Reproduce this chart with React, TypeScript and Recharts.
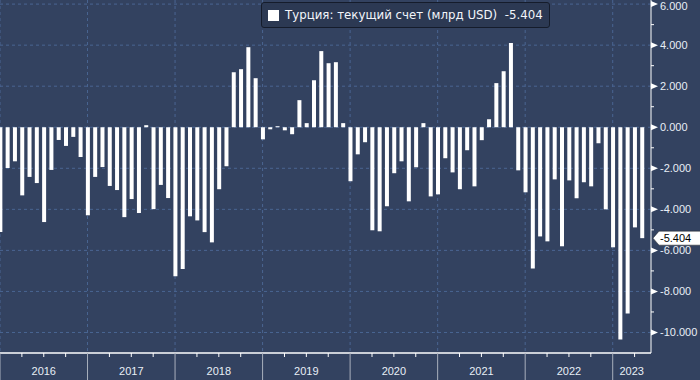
import React from "react";
import {
  Bar,
  BarChart,
  CartesianGrid,
  ReferenceDot,
  XAxis,
  YAxis,
} from "recharts";

// monthly current account, Dec 2015 .. Apr 2023 (bn USD)
const values = [
  -5.11,
  -1.99, -1.66, -3.32, -2.42, -2.72, -4.62, -2.08, -0.62, -0.91, -0.47, -1.45, -4.29,
  -2.42, -1.94, -2.86, -3.06, -4.38, -3.5, -4.18, 0.1, -3.99, -2.81, -3.45, -7.26,
  -6.91, -4.34, -4.54, -5.11, -5.61, -3.02, -1.9, 2.68, 2.83, 3.9, 2.39, -0.59,
  -0.1, 0.05, -0.15, -0.34, 1.32, 0.2, 2.29, 3.71, 3.12, 3.17, 0.2, -2.63,
  -1.32, -0.73, -5.02, -5.07, -3.85, -2.24, -1.66, -3.61, -1.95, 0.2, -3.37, -3.27,
  -1.51, -2.2, -3.02, -1.12, -2.88, -0.63, 0.39, 2.15, 2.73, 4.1, -2.1, -3.17,
  -6.88, -5.32, -5.56, -2.54, -5.8, -2.59, -3.46, -2.68, -2.88, -0.78, -4.0, -5.85,
  -10.34, -9.07, -4.88, -5.404,
];
const years = ["2016", "2017", "2018", "2019", "2020", "2021", "2022", "2023"];
const yTicks = [-10, -8, -6, -4, -2, 0, 2, 4, 6];
const seriesName = "Турция: текущий счет (млрд USD)";
const lastValue = values[values.length - 1];

const data = values.map((v, i) => ({ m: i, v }));

const BG = "#334260";
const GRID = "#4a6592";
const FONT = "'Liberation Sans', Arial, sans-serif";
const X_MAX = 89.25;

// quarter ticks, plus a label-only tick for the partial 2023
const xTicks = [...Array.from({ length: 30 }, (_, i) => i * 3), 86.6];
const yMinor = Array.from({ length: 17 }, (_, i) => i - 10);

function XTick(props: any) {
  const { x, y, payload } = props;
  const v = payload.value;
  if (v === 86.6) {
    return (
      <text x={x} y={y + 22} fill="#e8eef6" fontSize={11} fontFamily={FONT} textAnchor="middle">
        {years[7]}
      </text>
    );
  }
  if (v % 12 === 0) {
    return <line x1={x} x2={x} y1={y} y2={y + 27} stroke="#a9b0bd" strokeWidth={1} />;
  }
  return (
    <g>
      <line x1={x} x2={x} y1={y} y2={y + 4} stroke="#ffffff" strokeWidth={1} />
      {v % 12 === 6 && (
        <text x={x} y={y + 22} fill="#e8eef6" fontSize={11} fontFamily={FONT} textAnchor="middle">
          {years[(v - 6) / 12]}
        </text>
      )}
    </g>
  );
}

function YTick(props: any) {
  const { x, y, payload } = props;
  const v = payload.value;
  if (v % 2 !== 0) {
    return <line x1={x} x2={x + 3} y1={y} y2={y} stroke="#ffffff" strokeWidth={1} />;
  }
  return (
    <g>
      <polygon points={`${x},${y - 3} ${x + 7},${y} ${x},${y + 3}`} fill="#ffffff" />
      <text x={x + 9} y={Math.max(y + 4, 10)} fill="#e8eef6" fontSize={11} fontFamily={FONT}>
        {v.toFixed(3)}
      </text>
    </g>
  );
}

function ValueTag(props: any) {
  const { cx, cy } = props;
  const x = cx + 2;
  return (
    <g>
      <path
        d={`M${x},${cy} L${x + 6},${cy - 7} L${x + 60},${cy - 7} L${x + 60},${cy + 7} L${x + 6},${cy + 7} Z`}
        fill="#ffffff"
        stroke="#222"
        strokeWidth={0.5}
      />
      <text x={x + 7} y={cy + 4} fill="#000" fontSize={11} fontFamily={FONT}>
        {lastValue.toFixed(3)}
      </text>
    </g>
  );
}

function LegendBox() {
  return (
    <div
      style={{
        position: "absolute",
        top: 2,
        left: 261,
        display: "flex",
        alignItems: "center",
        background: "#2c3953",
        border: "1px solid #151c2b",
        borderRadius: 3,
        padding: "5px 6px",
        color: "#f2f5fa",
        fontFamily: "'DejaVu Sans', Verdana, sans-serif",
        fontSize: 11.8,
        whiteSpace: "pre",
      }}
    >
      <span style={{ width: 11, height: 11, background: "#fff", marginRight: 6 }} />
      {`${seriesName}  ${lastValue.toFixed(3)}`}
    </div>
  );
}

export default function App() {
  return (
    <div style={{ position: "absolute", left: 0, top: 0, width: 700, height: 380, background: BG, overflow: "hidden" }}>
      <BarChart width={700} height={380} data={data} margin={{ top: 0, right: 0, left: 0, bottom: 0 }}>
        <CartesianGrid
          stroke={GRID}
          strokeDasharray="3 3"
          horizontalValues={yTicks}
          verticalValues={years.map((_, i) => i * 12)}
        />
        <XAxis
          dataKey="m"
          type="number"
          domain={[0, X_MAX]}
          ticks={xTicks}
          interval={0}
          height={27}
          tickSize={0}
          tickMargin={0}
          tickLine={false}
          axisLine={{ stroke: "#ffffff", strokeWidth: 1.5 }}
          tick={<XTick />}
          allowDataOverflow
        />
        <YAxis
          orientation="right"
          domain={[-11, 6.2]}
          ticks={yMinor}
          interval={0}
          width={49}
          tickSize={0}
          tickMargin={0}
          tickLine={false}
          axisLine={{ stroke: "#ffffff", strokeWidth: 1 }}
          tick={<YTick />}
          allowDataOverflow
        />
        <Bar dataKey="v" fill="#ffffff" barSize={4} isAnimationActive={false} />
        <ReferenceDot x={X_MAX} y={lastValue} r={0} ifOverflow="visible" shape={<ValueTag />} />
      </BarChart>
      <LegendBox />
    </div>
  );
}
